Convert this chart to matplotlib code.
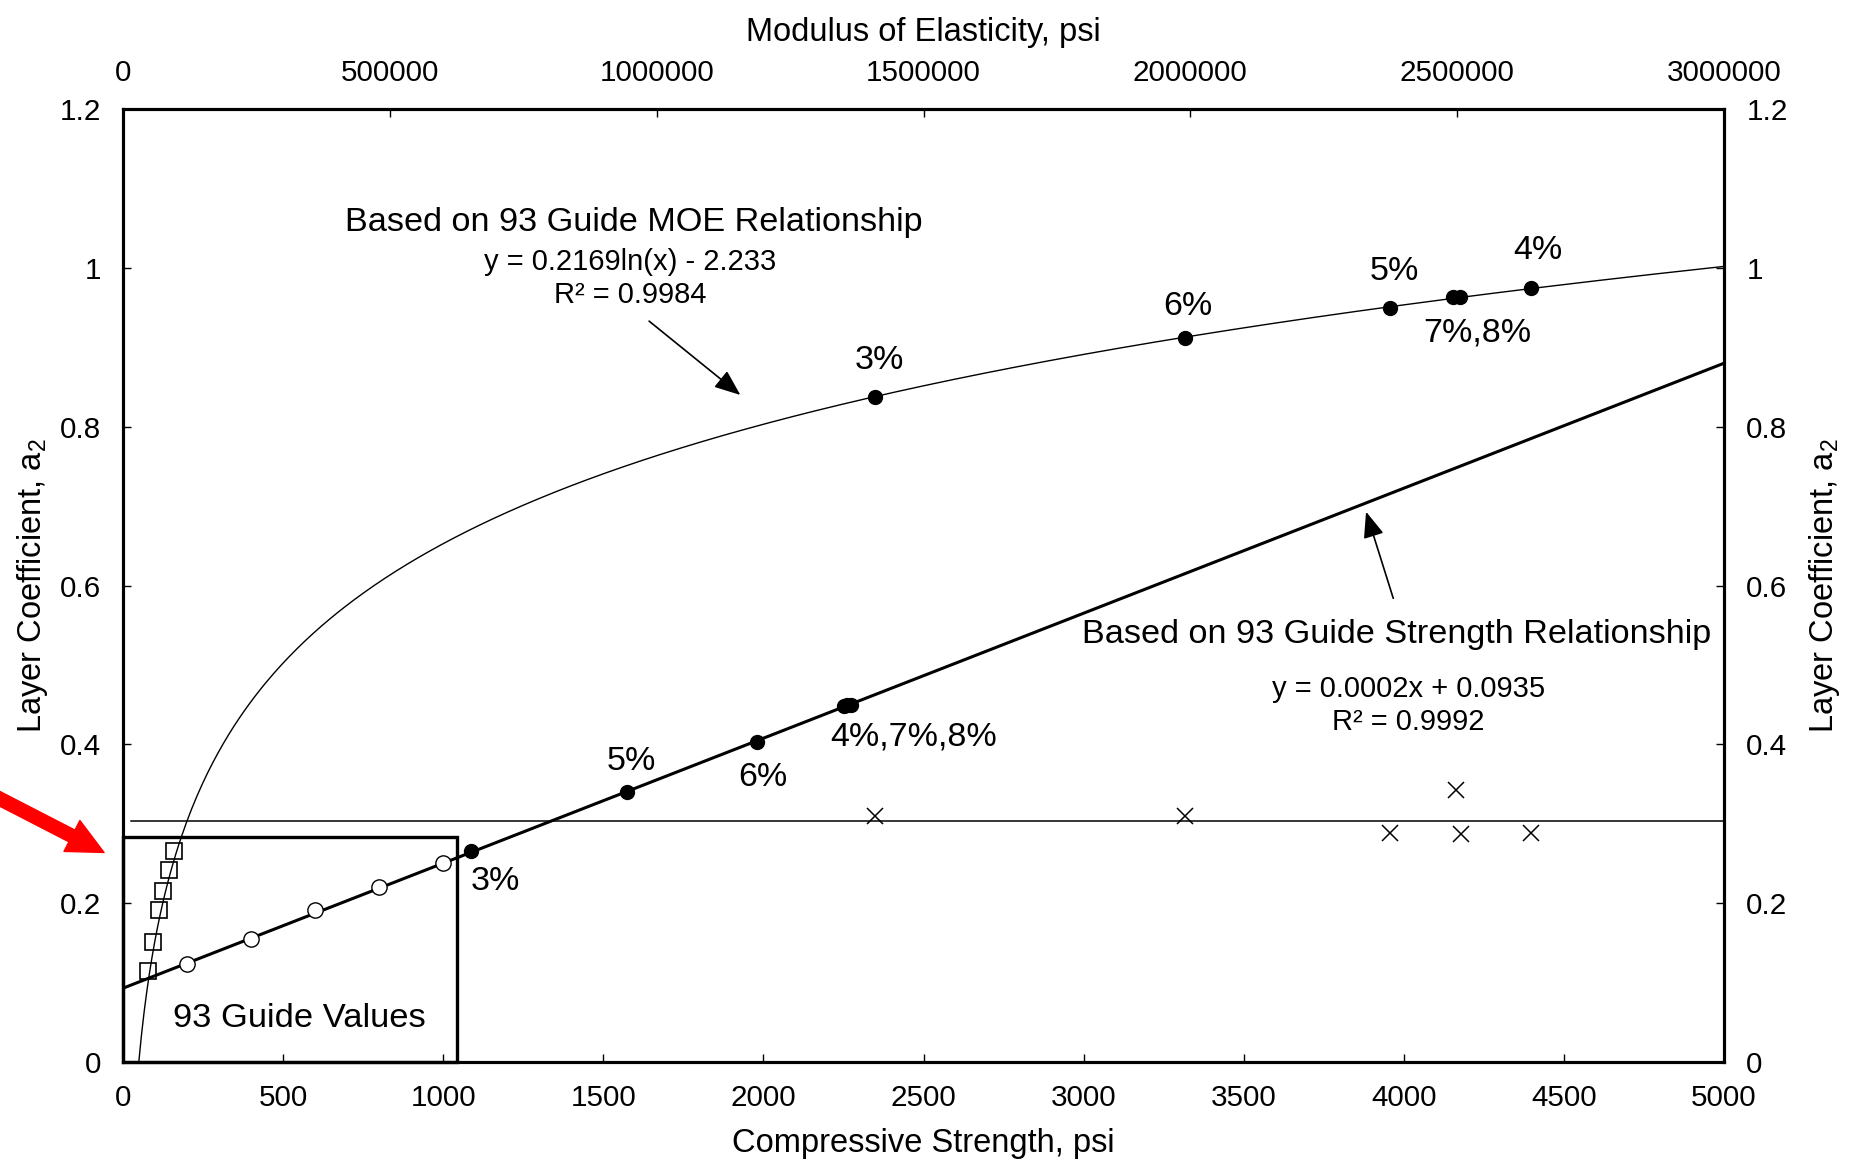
import matplotlib
matplotlib.use("Agg")
import matplotlib.pyplot as plt
import numpy as np
from matplotlib.patches import FancyArrowPatch, Rectangle

plt.rcParams['font.family'] = ['Liberation Sans', 'DejaVu Sans']
plt.rcParams['mathtext.fontset'] = 'custom'
plt.rcParams['mathtext.rm'] = 'Liberation Sans'
plt.rcParams['mathtext.it'] = 'Liberation Sans:italic'

# 93 Guide values (compressive strength, psi -> layer coefficient)
guide_strength = [200, 400, 600, 800, 1000]
guide_strength_a2 = [0.124, 0.155, 0.191, 0.221, 0.251]

# 93 Guide values plotted against modulus (shown on the strength axis scale)
guide_moe_x = [78, 93, 111, 126, 144, 159]
guide_moe_a2 = [0.115, 0.151, 0.191, 0.215, 0.242, 0.266]

# strength relationship trendline, read at its ends
strength_line_x = [0, 5000]
strength_line_a2 = [0.093, 0.880]

# MOE relationship trendline (coefficients from the chart label)
LOG_A = 0.2169
LOG_B = -2.233
moe_min, moe_max = 29600, 3000000

# mix results on the strength line
mix_strength = [1088, 1573, 1980, 2252, 2262, 2272]
mix_strength_a2 = [0.266, 0.340, 0.403, 0.448, 0.449, 0.450]
mix_strength_labels = ["3%", "5%", "6%", "4%,7%,8%"]

# mix results on the MOE curve (strength-axis positions)
mix_moe_x = [2350, 3316, 3956, 4152, 4175, 4397]
mix_moe_a2 = [0.837, 0.912, 0.949, 0.963, 0.963, 0.975]
mix_moe_labels = ["3%", "6%", "5%", "7%,8%", "4%"]

# measured values (crosses)
meas_x = [2350, 3316, 3956, 4163, 4178, 4397]
meas_a2 = [0.310, 0.310, 0.288, 0.343, 0.287, 0.288]

hline_a2 = 0.304
hline_x = [26, 5000]

fig = plt.figure(figsize=(18.58, 11.63), dpi=100)
ax = fig.add_axes([0.0662, 0.0868, 0.8617, 0.8194])

ax.set_xlim(0, 5000)
ax.set_ylim(0, 1.2)

yt = [0, 0.2, 0.4, 0.6, 0.8, 1.0, 1.2]
ytl = ["0", "0.2", "0.4", "0.6", "0.8", "1", "1.2"]
xt = list(range(0, 5001, 500))

ax.set_xticks(xt)
ax.set_xticklabels([str(v) for v in xt])
ax.set_yticks(yt)
ax.set_yticklabels(ytl)

# lines
ax.plot(strength_line_x, strength_line_a2, color="black", lw=2.2, zorder=3)
ax.plot(hline_x, [hline_a2, hline_a2], color="black", lw=1.1, zorder=2)

# markers
ax.plot(guide_strength, guide_strength_a2, ls="none", marker="o", ms=11,
        mfc="white", mec="black", mew=1.0, zorder=4)
ax.plot(guide_moe_x, guide_moe_a2, ls="none", marker="s", ms=11,
        mfc="none", mec="black", mew=1.2, zorder=4)
ax.plot(mix_strength, mix_strength_a2, ls="none", marker="o", ms=10,
        color="black", zorder=5)
ax.plot(mix_moe_x, mix_moe_a2, ls="none", marker="o", ms=10,
        color="black", zorder=5)
ax.plot(meas_x, meas_a2, ls="none", marker="x", ms=12, mew=1.1,
        color="black", zorder=5)

# percent labels
lab_fs = 24.5
for txt, (x, y) in zip(mix_strength_labels,
                       [(1162, 0.227), (1588, 0.379), (1999, 0.358), (2469, 0.409)]):
    ax.text(x, y, txt, fontsize=lab_fs, ha="center", va="center")
for txt, (x, y) in zip(mix_moe_labels,
                       [(2361, 0.884), (3327, 0.951), (3971, 0.996), (4230, 0.918), (4419, 1.022)]):
    ax.text(x, y, txt, fontsize=lab_fs, ha="center", va="center")

# annotations
ax.text(1595, 1.057, "Based on 93 Guide MOE Relationship", fontsize=24.7,
        ha="center", va="center")
ax.text(1584, 1.007, "y = 0.2169ln(x) - 2.233", fontsize=21, ha="center", va="center")
ax.text(1584, 0.966, "R² = 0.9984", fontsize=21, ha="center", va="center")
ax.text(3979, 0.539, "Based on 93 Guide Strength Relationship", fontsize=24.7,
        ha="center", va="center")
ax.text(4015, 0.470, "y = 0.0002x + 0.0935", fontsize=21, ha="center", va="center")
ax.text(4015, 0.428, "R² = 0.9992", fontsize=21, ha="center", va="center")

arrow_style = "-|>,head_length=0.5,head_width=0.2"
ax.annotate("", xy=(1928, 0.840), xytext=(1643, 0.933),
            arrowprops=dict(arrowstyle=arrow_style, lw=1.2, color="black",
                            mutation_scale=32, shrinkA=0, shrinkB=0))
ax.annotate("", xy=(3882, 0.693), xytext=(3967, 0.584),
            arrowprops=dict(arrowstyle=arrow_style, lw=1.2, color="black",
                            mutation_scale=32, shrinkA=0, shrinkB=0))

# 93 Guide values box
ax.add_patch(Rectangle((0, 0), 1043, 0.283, fill=False, lw=2.4,
                       edgecolor="black", zorder=6, clip_on=False))
ax.text(551, 0.055, "93 Guide Values", fontsize=24.8, ha="center", va="center")

ax.set_xlabel("Compressive Strength, psi", fontsize=23.5, labelpad=11)
ax.set_ylabel(r"Layer Coefficient, a$_{\mathrm{2}}$", fontsize=23.5, labelpad=7)

for sp in ax.spines.values():
    sp.set_linewidth(2.2)
ax.tick_params(direction="in", length=6, width=1.0, labelsize=21.3, pad=16)

# top axis: modulus of elasticity
axt = ax.twiny()
axt.set_xlim(0, 3000000)
moe = np.linspace(moe_min, moe_max, 600)
axt.plot(moe, LOG_A * np.log(moe) + LOG_B, color="black", lw=1.0, zorder=3)
xt_top = list(range(0, 3000001, 500000))
axt.set_xticks(xt_top)
axt.set_xticklabels([str(v) for v in xt_top])
axt.set_xlabel("Modulus of Elasticity, psi", fontsize=23.5, labelpad=13)
axt.tick_params(direction="in", length=6, width=1.0, labelsize=21.3, pad=16)
for sp in axt.spines.values():
    sp.set_linewidth(2.2)

# right axis
axr = ax.twinx()
axr.set_ylim(0, 1.2)
axr.set_yticks(yt)
axr.set_yticklabels(ytl)
axr.set_ylabel(r"Layer Coefficient, a$_{\mathrm{2}}$", fontsize=23.5, labelpad=14,
               rotation=90)
axr.tick_params(direction="in", length=6, width=1.0, labelsize=21.3, pad=16)
for sp in axr.spines.values():
    sp.set_linewidth(2.2)

# red pointer arrow on the left
red = FancyArrowPatch((-0.006, 0.318), (0.056, 0.267), transform=fig.transFigure,
                      arrowstyle="simple,head_length=2.6,head_width=2.5,tail_width=0.95",
                      mutation_scale=10, color="#ff0000", shrinkA=0, shrinkB=0)
fig.patches.append(red)

fig.savefig("out.png", dpi=100)
